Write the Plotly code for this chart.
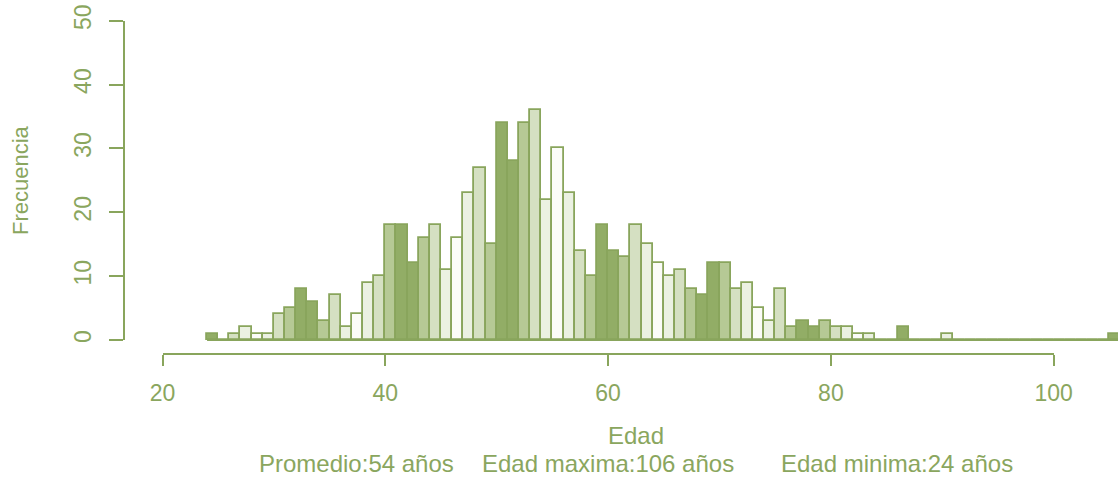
import plotly.graph_objects as go

# ---- data -------------------------------------------------------------
EDAD_MIN = 24
EDAD_MAX = 106
PROMEDIO = 54

# frequency per one-year bin, first bin starts at EDAD_MIN
frecuencias = [
    1, 0, 1, 2, 1, 1, 4, 5, 8, 6,        # 24-33
    3, 7, 2, 4, 9, 10, 18, 18, 12, 16,   # 34-43
    18, 11, 16, 23, 27, 15, 34, 28, 34, 36,  # 44-53
    22, 30, 23, 14, 10, 18, 14, 13, 18, 15,  # 54-63
    12, 10, 11, 8, 7, 12, 12, 8, 9, 5,   # 64-73
    3, 8, 2, 3, 2, 3, 2, 2, 1, 1,        # 74-83
    0, 0, 2, 0, 0, 0, 1, 0, 0, 0,        # 84-93
    0, 0, 0, 0, 0, 0, 0, 0, 0, 0,        # 94-103
    0, 1,                                # 104-105
]
x_ticks = [20, 40, 60, 80, 100]
y_ticks = [0, 10, 20, 30, 40, 50]

# ---- styling ----------------------------------------------------------
W, H = 1118, 478
GREEN = "#89a55c"
TEXT = "#8aa65e"
FONT = "Liberation Sans, Arial, sans-serif"
# nine-step fill cycle: dark -> white -> dark
palette = ["#92ad66", "#b6c995", "#d5e0c2", "#ebf1e2", "#fbfcf8",
           "#ebf1e2", "#d5e0c2", "#b6c995", "#92ad66"]

# pixel layout of the plotting region
PX_X20, PX_PER_YEAR = 162.5, 11.14      # x of age 20 and width of one year
PX_Y0, PX_Y50 = 340.0, 20.7             # y of frequency 0 and 50
PX_YAXIS = 124.0                        # x of the frequency axis line
PX_XAXIS = 354.0                        # y of the age axis line


def px_to_xp(px):
    return px / W


def py_to_yp(py):
    return 1 - py / H


px_per_unit_y = (PX_Y0 - PX_Y50) / 50.0

edades = list(range(EDAD_MIN, EDAD_MIN + len(frecuencias)))
centros = [e + 0.5 for e in edades]
colores = [palette[(e - EDAD_MIN) % len(palette)] for e in edades]

fig = go.Figure()

# zero-height bins still leave their outline along the baseline
fig.add_trace(go.Scatter(
    x=[EDAD_MIN, EDAD_MAX], y=[0, 0], mode="lines",
    line=dict(color=GREEN, width=1.8), hoverinfo="skip", showlegend=False,
))

fig.add_trace(go.Bar(
    x=centros, y=frecuencias, width=1,
    marker=dict(color=colores, line=dict(color=GREEN, width=1.8)),
    showlegend=False,
))

# empty trace that carries the visible axes
fig.add_trace(go.Scatter(x=[None], y=[None], xaxis="x2", yaxis="y2",
                         showlegend=False, hoverinfo="skip"))

x_lo = 20 - (PX_X20 - PX_YAXIS) / PX_PER_YEAR
x_hi = 20 + (W - PX_X20) / PX_PER_YEAR
y_lo = -(352 - PX_Y0) / px_per_unit_y
y_hi = 50 + PX_Y50 / px_per_unit_y

axis_font = dict(family=FONT, size=23, color=TEXT)

fig.update_layout(
    template="none",
    width=W, height=H,
    margin=dict(l=0, r=0, t=0, b=0, pad=0, autoexpand=False),
    paper_bgcolor="white", plot_bgcolor="rgba(0,0,0,0)",
    bargap=0,
    xaxis=dict(domain=[px_to_xp(PX_YAXIS), 1], range=[x_lo, x_hi],
               visible=False, automargin=False),
    yaxis=dict(domain=[py_to_yp(352), 1], range=[y_lo, y_hi],
               visible=False, automargin=False),
    xaxis2=dict(
        domain=[px_to_xp(PX_X20), px_to_xp(PX_X20 + 80 * PX_PER_YEAR)],
        range=[20, 100], anchor="free", position=py_to_yp(PX_XAXIS),
        showline=True, linecolor=GREEN, linewidth=1.8,
        ticks="outside", ticklen=11, tickwidth=1.8, tickcolor=GREEN,
        tickvals=x_ticks, ticktext=[str(v) for v in x_ticks],
        tickfont=axis_font, ticklabelstandoff=7,
        showgrid=False, zeroline=False, automargin=False,
    ),
    yaxis2=dict(
        domain=[py_to_yp(PX_Y0), py_to_yp(PX_Y50)],
        range=[0, 50], anchor="free", position=px_to_xp(PX_YAXIS),
        side="left",
        showline=True, linecolor=GREEN, linewidth=1.8,
        ticks="outside", ticklen=14, tickwidth=1.8, tickcolor=GREEN,
        tickvals=y_ticks, ticktext=[str(v) for v in y_ticks],
        tickangle=-90, tickfont=axis_font, ticklabelstandoff=9,
        showgrid=False, zeroline=False, automargin=False,
    ),
)

fig.add_annotation(text="Frecuencia", textangle=-90,
                   font=dict(family=FONT, size=22, color=TEXT),
                   x=px_to_xp(20), y=py_to_yp(180), xref="paper", yref="paper",
                   showarrow=False, xanchor="center", yanchor="middle")

title_font = dict(family=FONT, size=24, color=TEXT)
fig.add_annotation(text="Edad", font=title_font, borderpad=0,
                   x=px_to_xp(636), y=py_to_yp(435), xref="paper", yref="paper",
                   showarrow=False, xanchor="center", yanchor="middle")

resumen = [
    (f"Promedio:{PROMEDIO} años", 356),
    (f"Edad maxima:{EDAD_MAX} años", 608),
    (f"Edad minima:{EDAD_MIN} años", 897),
]
for texto, cx in resumen:
    fig.add_annotation(text=texto, font=title_font, borderpad=0,
                       x=px_to_xp(cx), y=py_to_yp(463),
                       xref="paper", yref="paper", showarrow=False,
                       xanchor="center", yanchor="middle")

fig.write_html("out.html")
